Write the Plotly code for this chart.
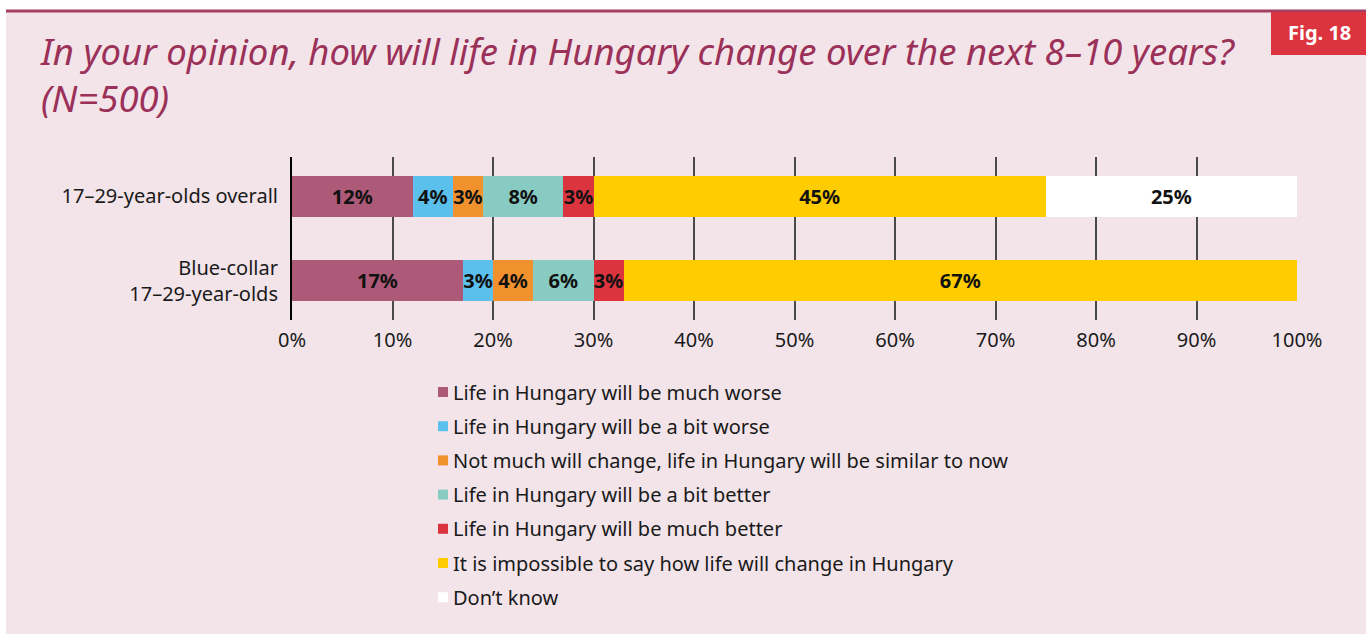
import plotly.graph_objects as go

categories = ["Blue-collar<br>17\u201329-year-olds", "17\u201329-year-olds overall"]
series_names = [
    "Life in Hungary will be much worse",
    "Life in Hungary will be a bit worse",
    "Not much will change, life in Hungary will be similar to now",
    "Life in Hungary will be a bit better",
    "Life in Hungary will be much better",
    "It is impossible to say how life will change in Hungary",
    "Don\u2019t know",
]
# values per series: [blue-collar, overall]
much_worse = [17, 12]
bit_worse = [3, 4]
similar = [4, 3]
bit_better = [6, 8]
much_better = [3, 3]
impossible = [67, 45]
dont_know = [None, 25]
series_values = [much_worse, bit_worse, similar, bit_better, much_better, impossible, dont_know]
colors = ["#ad5a78", "#5bc0eb", "#f0912e", "#88cbc2", "#dc343f", "#ffcc00", "#ffffff"]
tick_vals = [0, 10, 20, 30, 40, 50, 60, 70, 80, 90, 100]
tick_text = [f"{v}%" for v in tick_vals]

W, H = 1370, 634
L, R, T, B = 292, 73, 157, 314
PW, PH = W - L - R, H - T - B

def px(x):
    return (x - L) / PW

def py(y):
    return (H - B - y) / PH

FONT = "Noto Sans"

fig = go.Figure()
for name, vals, col in zip(series_names, series_values, colors):
    fig.add_trace(go.Bar(
        y=categories, x=vals, orientation="h", name=name,
        marker=dict(color=col, line=dict(width=0)),
        width=0.49,
        text=[f"{v}%" if v else "" for v in vals],
        textposition="inside", insidetextanchor="middle", textangle=0,
        textfont=dict(family=FONT, size=20, color="#111111", weight="bold"),
        showlegend=False, hoverinfo="skip",
    ))

shapes = []
annotations = []
# background panel
shapes.append(dict(type="rect", xref="paper", yref="paper", x0=px(6), x1=px(1366), y0=py(634), y1=py(11),
                   fillcolor="#f2e4e9", line=dict(width=0), layer="below"))
shapes.append(dict(type="line", xref="paper", yref="paper", x0=px(6), x1=px(1366), y0=py(11), y1=py(11),
                   line=dict(color="#a3405f", width=3), layer="below"))
# Fig. 18 box
shapes.append(dict(type="rect", xref="paper", yref="paper", x0=px(1271), x1=px(1366), y0=py(55), y1=py(12),
                   fillcolor="#dc343f", line=dict(width=0), layer="above"))
annotations.append(dict(text="<b>Fig. 18</b>", xref="paper", yref="paper", x=px(1319), y=py(33),
                        showarrow=False, xanchor="center", yanchor="middle",
                        font=dict(family=FONT, size=20, color="#ffffff")))
# title
annotations.append(dict(text="<i>In your opinion, how will life in Hungary change over the next 8\u201310 years?<br>(N=500)</i>",
                        xref="paper", yref="paper", x=px(38), y=py(24), showarrow=False,
                        xanchor="left", yanchor="top", align="left",
                        font=dict(family=FONT, size=36.5, color="#9b3158")))
# legend (manual)
leg_y0, leg_dy = 392, 34.2
for i, (name, col) in enumerate(zip(series_names, colors)):
    cy = leg_y0 + i * leg_dy
    shapes.append(dict(type="rect", xref="paper", yref="paper", x0=px(438), x1=px(448), y0=py(cy + 5), y1=py(cy - 5),
                       fillcolor=col, line=dict(width=0)))
    annotations.append(dict(text=name, xref="paper", yref="paper", x=px(451), y=py(cy), showarrow=False,
                            xanchor="left", yanchor="middle",
                            font=dict(family=FONT, size=20, color="#1a1a1a")))

fig.update_layout(
    barmode="stack",
    width=W, height=H,
    margin=dict(l=L, r=R, t=T, b=B),
    paper_bgcolor="#ffffff", plot_bgcolor="rgba(0,0,0,0)",
    shapes=shapes, annotations=annotations,
    uniformtext=dict(minsize=20, mode="show"),
    font=dict(family=FONT, size=20, color="#1a1a1a"),
    xaxis=dict(range=[0, 100], tickvals=tick_vals, ticktext=tick_text, showgrid=True,
               gridcolor="#4a4a4a", gridwidth=1.5, zeroline=False, showline=False,
               ticks="", ticklabelstandoff=6, tickfont=dict(size=20, color="#1a1a1a", family=FONT)),
    yaxis=dict(categoryorder="array", categoryarray=categories, range=[-0.47, 1.47],
               showgrid=False, zeroline=False, showline=True, linecolor="#000000", linewidth=2,
               ticks="", ticklabelstandoff=8, tickfont=dict(size=20, color="#1a1a1a", family=FONT)),
)
fig.write_html("out.html", config={"displayModeBar": False},
               post_script="document.body.style.margin='0';document.body.style.overflow='hidden';")
